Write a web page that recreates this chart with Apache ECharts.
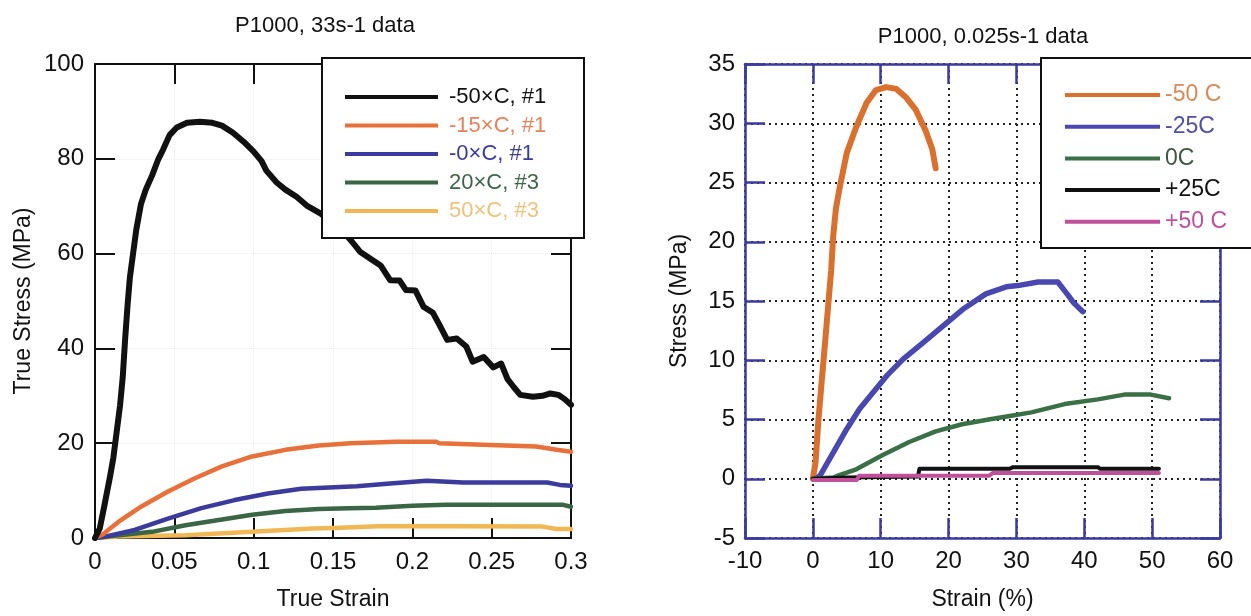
<!DOCTYPE html>
<html><head><meta charset="utf-8">
<script src="https://cdn.jsdelivr.net/npm/echarts@6/dist/echarts.min.js"></script>
<style>html,body{margin:0;padding:0;background:#fff}#c{width:1251px;height:616px}</style>
</head><body><div id="c"></div>
<script>
// ---------- LEFT CHART: P1000, 33s-1 data (True Stress vs True Strain) ----------
const leftTitle = 'P1000, 33s-1 data';
const leftXTicks = ['0', '0.05', '0.1', '0.15', '0.2', '0.25', '0.3'];
const leftNames = ['-50×C, #1', '-15×C, #1', '-0×C, #1', '20×C, #3', '50×C, #3'];
const leftNeg50 = [[0,0],[0.003,2],[0.006,7],[0.0095,13],[0.0116,17],[0.0137,22.5],[0.0158,28],[0.0175,34],[0.019,42],[0.0205,49],[0.022,55],[0.024,60],[0.026,65],[0.029,70.5],[0.032,73.5],[0.036,76.5],[0.04,80],[0.043,82],[0.047,85],[0.0515,86.6],[0.058,87.6],[0.066,87.8],[0.074,87.6],[0.08,87],[0.087,85.5],[0.094,83.5],[0.1,81.5],[0.105,79.5],[0.108,77.5],[0.1145,75],[0.12,73.5],[0.127,72],[0.134,70],[0.142,68.5],[0.15,66.5],[0.157,64.5],[0.162,62.5],[0.167,60.4],[0.175,58.6],[0.18,57.5],[0.186,54.4],[0.192,54.3],[0.196,52.3],[0.202,52.2],[0.207,48.8],[0.213,47.5],[0.217,45],[0.222,41.8],[0.228,42.1],[0.234,40.4],[0.238,37.2],[0.245,38.2],[0.251,36],[0.256,36.8],[0.26,33.5],[0.264,31.8],[0.268,30.2],[0.276,29.8],[0.282,30],[0.287,30.5],[0.292,30.2],[0.296,29.3],[0.3,28.1]];
const leftNeg15 = [[0,0],[0.005,0.8],[0.0147,3.4],[0.029,6.6],[0.046,9.8],[0.063,12.6],[0.08,15.1],[0.099,17.2],[0.12,18.6],[0.141,19.5],[0.161,20.0],[0.19,20.3],[0.215,20.3],[0.217,20.0],[0.249,19.6],[0.278,19.3],[0.291,18.6],[0.3,18.2]];
const leftZero = [[0,0],[0.0063,0.3],[0.025,1.7],[0.046,4.1],[0.067,6.3],[0.088,8.0],[0.109,9.4],[0.13,10.4],[0.151,10.7],[0.165,10.9],[0.186,11.5],[0.209,12.1],[0.232,11.7],[0.285,11.7],[0.293,11.2],[0.3,11.0]];
const leftPos20 = [[0,0],[0.015,0.6],[0.036,1.3],[0.057,2.7],[0.078,3.8],[0.099,4.9],[0.12,5.7],[0.141,6.1],[0.16,6.3],[0.177,6.4],[0.2,6.8],[0.221,7.0],[0.253,7.0],[0.295,7.0],[0.3,6.6]];
const leftPos50 = [[0,0],[0.015,0.3],[0.057,0.6],[0.099,1.3],[0.137,2.0],[0.15,2.1],[0.179,2.5],[0.23,2.5],[0.282,2.4],[0.291,1.9],[0.3,1.9]];

// ---------- RIGHT CHART: P1000, 0.025s-1 data (Stress vs Strain %) ----------
const rightTitle = 'P1000, 0.025s-1 data';
const rightNames = ['-50 C', '-25C', '0C', '+25C', '+50 C'];
const rightNeg50 = [[0,0],[0.4,1.4],[0.8,4.8],[1.3,8.2],[1.8,11.5],[2.3,14.9],[2.7,17.6],[3.0,20.5],[3.4,22.8],[4.0,24.7],[5.0,27.5],[6.4,29.7],[7.9,31.7],[9.3,32.8],[10.8,33.05],[12.3,32.9],[13.7,32.2],[15.2,31.1],[16.6,29.4],[17.6,27.8],[18.1,26.2]];
const rightNeg25 = [[0.5,0],[1.1,0.3],[3,2.2],[5,4.2],[6.9,5.9],[8.9,7.3],[10.9,8.7],[13.3,10.1],[16.3,11.5],[19.2,12.9],[22.1,14.3],[25.5,15.6],[28.5,16.2],[30.2,16.3],[33.2,16.6],[36.1,16.6],[37.6,15.5],[38.5,14.8],[39.8,14.1]];
const rightZero = [[0,0],[3,0.1],[3.9,0.3],[6.4,0.8],[10.3,2.0],[14.2,3.1],[18.1,4.0],[22,4.6],[25.9,5.0],[29,5.3],[32.2,5.6],[37.1,6.3],[42,6.7],[45.9,7.1],[49.8,7.1],[52.5,6.8]];
const rightPos25 = [[0,0],[5,0.1],[15.5,0.2],[15.7,0.84],[29,0.84],[29.5,0.98],[42,0.98],[42.3,0.84],[51,0.84]];
const rightPos50 = [[0,-0.1],[6.5,-0.1],[6.8,0.25],[26,0.25],[26.5,0.48],[51,0.48]];

const leftColors = ['#111111', '#e8703a', '#3b3b9e', '#3a6645', '#f2b755'];
const leftTextColors = ['#111111', '#e8825a', '#3b3b9e', '#3a6645', '#f0c27a'];
const rightColors = ['#d9702e', '#4848b0', '#3a7045', '#111111', '#c0509a'];
const rightTextColors = ['#d98a55', '#5050a8', '#3a5a40', '#111111', '#c0509a'];

const FONT = 'Liberation Sans';
const chart = echarts.init(document.getElementById('c'), null, {renderer: 'canvas'});

const leftData = [leftNeg50, leftNeg15, leftZero, leftPos20, leftPos50];
const rightData = [rightNeg50, rightNeg25, rightZero, rightPos25, rightPos50];
const leftWidths = [6, 4.5, 4.5, 4.5, 4.5];
const rightWidths = [6, 5.5, 4.5, 4, 4];

const series = [];
leftData.forEach((d, i) => series.push({
  name: leftNames[i], type: 'line', xAxisIndex: 0, yAxisIndex: 0, data: d,
  showSymbol: false, symbol: 'none', animation: false, z: 3 + (leftData.length - i),
  lineStyle: {color: leftColors[i], width: leftWidths[i], cap: 'round', join: 'round'},
  itemStyle: {color: leftColors[i]}
}));
rightData.forEach((d, i) => series.push({
  name: rightNames[i], type: 'line', xAxisIndex: 2, yAxisIndex: 2, data: d,
  showSymbol: false, symbol: 'none', animation: false, z: 3 + i,
  lineStyle: {color: rightColors[i], width: rightWidths[i], cap: 'round', join: 'round'},
  itemStyle: {color: rightColors[i]}
}));

const blk = '#111';
const blue = '#3a3aa0';
const lblStyle = {fontFamily: FONT, fontSize: 24, color: '#111'};
const nameStyle = {fontFamily: FONT, fontSize: 23, color: '#111'};

function frameAxis(gridIndex, pos, color, lw, extra) {
  return Object.assign({
    gridIndex: gridIndex, position: pos, type: 'value',
    axisLine: {show: true, onZero: false, lineStyle: {color: color, width: lw}},
    axisTick: {show: true, inside: true, length: 20, lineStyle: {color: color, width: lw}},
    axisLabel: {show: false},
    splitLine: {show: false}
  }, extra);
}

const option = {
  backgroundColor: '#fff',
  animation: false,
  title: [
    {text: leftTitle, left: 320, top: 10, textAlign: 'center',
     textStyle: {fontFamily: FONT, fontSize: 22, fontWeight: 'normal', color: '#111'}},
    {text: rightTitle, left: 978, top: 21, textAlign: 'center',
     textStyle: {fontFamily: FONT, fontSize: 22, fontWeight: 'normal', color: '#111'}}
  ],
  grid: [
    {left: 95, top: 64, width: 476, height: 474},
    {left: 745, top: 64, width: 475, height: 475.5}
  ],
  xAxis: [
    frameAxis(0, 'bottom', blk, 2, {
      min: 0, max: 0.3, interval: 0.05,
      name: 'True Strain', nameLocation: 'middle', nameGap: 50,
      nameTextStyle: nameStyle,
      axisLabel: Object.assign({show: true, margin: 12,
        formatter: v => leftXTicks[Math.round(v / 0.05)]}, lblStyle),
      splitLine: {show: true, lineStyle: {color: '#ececec', width: 1, type: 'dotted'}}
    }),
    frameAxis(0, 'top', blk, 2, {min: 0, max: 0.3, interval: 0.05}),
    frameAxis(1, 'bottom', blue, 2.5, {
      min: -10, max: 60, interval: 10,
      name: 'Strain (%)', nameLocation: 'middle', nameGap: 50,
      nameTextStyle: nameStyle,
      axisLabel: Object.assign({show: true, margin: 11}, lblStyle),
      splitLine: {show: true, lineStyle: {color: '#222', width: 2, type: [2, 4]}}
    }),
    frameAxis(1, 'top', blue, 2.5, {min: -10, max: 60, interval: 10})
  ],
  yAxis: [
    frameAxis(0, 'left', blk, 2, {
      min: 0, max: 100, interval: 20,
      name: 'True Stress (MPa)', nameLocation: 'middle', nameGap: 60,
      nameTextStyle: nameStyle,
      axisLabel: Object.assign({show: true, margin: 11}, lblStyle),
      splitLine: {show: true, lineStyle: {color: '#ececec', width: 1, type: 'dotted'}}
    }),
    frameAxis(0, 'right', blk, 2, {min: 0, max: 100, interval: 20}),
    frameAxis(1, 'left', blue, 2.5, {
      min: -5, max: 35, interval: 5,
      name: 'Stress (MPa)', nameLocation: 'middle', nameGap: 54,
      nameTextStyle: nameStyle,
      axisLabel: Object.assign({show: true, margin: 10}, lblStyle),
      splitLine: {show: true, lineStyle: {color: '#222', width: 2, type: [2, 4]}}
    }),
    frameAxis(1, 'right', blue, 2.5, {min: -5, max: 35, interval: 5})
  ],
  graphic: [
    {type: 'rect', z: 50, shape: {x: 322, y: 58, width: 262, height: 180},
     style: {fill: '#fff', stroke: '#111', lineWidth: 2}},
    {type: 'rect', z: 50, shape: {x: 1041, y: 58, width: 230, height: 190},
     style: {fill: '#fff', stroke: '#111', lineWidth: 2}}
  ],
  legend: [
    {z: 100, orient: 'vertical', left: 340, top: 80, icon: 'rect',
     itemWidth: 93, itemHeight: 4, itemGap: 4.5,
     textStyle: {fontFamily: FONT, fontSize: 22, lineHeight: 24, padding: [0, 0, 0, 6]},
     data: leftNames.map((n, i) => ({name: n, textStyle: {color: leftTextColors[i]}}))},
    {z: 100, orient: 'vertical', left: 1060, top: 78, icon: 'rect',
     itemWidth: 95, itemHeight: 4, itemGap: 7.7,
     textStyle: {fontFamily: FONT, fontSize: 23, lineHeight: 24, padding: [0, 0, 0, 0]},
     data: rightNames.map((n, i) => ({name: n, textStyle: {color: rightTextColors[i]}}))}
  ],
  series: series
};
chart.setOption(option);
</script>
</body></html>
